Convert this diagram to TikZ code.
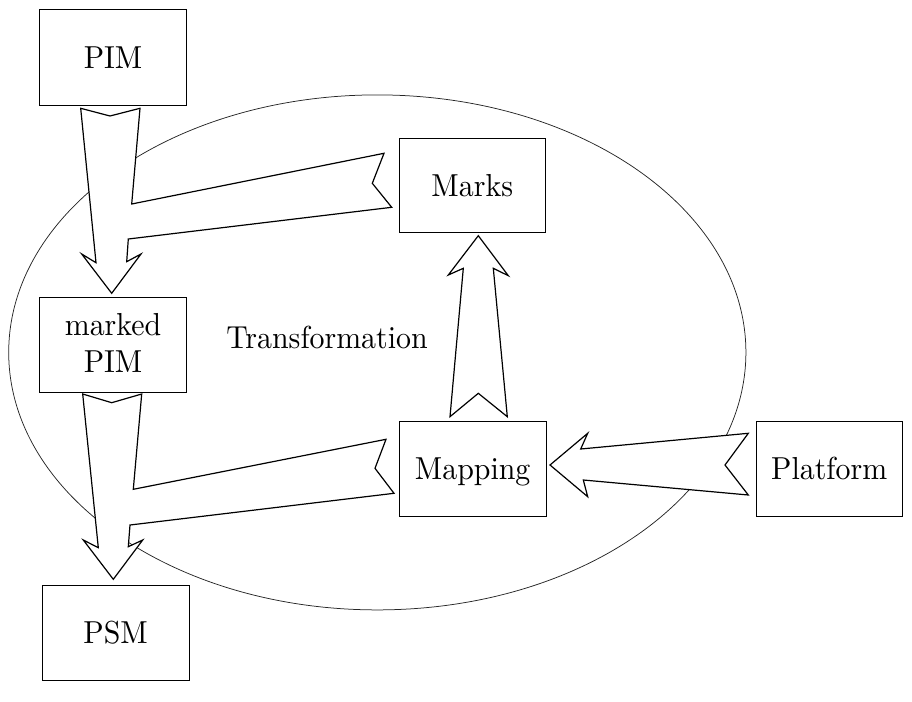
\documentclass[tikz,border=0pt]{standalone}
\usepackage{fontspec}
\newfontfamily\tenrm{lmroman10-regular}[Extension=.otf,FakeStretch=0.94]
\begin{document}
\begin{tikzpicture}[x=1pt,y=-1pt,
  lbl/.style={font=\tenrm\fontsize{31.8}{36.6}\selectfont},
  box/.style={draw=black,fill=white,line width=0.8pt,inner sep=0pt,outer sep=0pt,lbl},
  oneline/.style={text height=21.7pt,text depth=0pt},
  blockarrow/.style={draw=black,fill=white,line width=1.2pt,line join=miter},
  ring/.style={draw=black!85,line width=0.75pt}]
\useasboundingbox (0,0) rectangle (912,701);
% ellipse (transformation)
\draw[ring] (377.3,352.4) ellipse [x radius=368.6, y radius=257.5];
% block arrows
\draw[blockarrow] (80.7,108.3) -- (110,116) -- (140,108.3) -- (131.7,204) -- (384,153.3)
  -- (372.3,183.3) -- (391.7,207.3) -- (128.3,239) -- (126.7,261.7) -- (141,254)
  -- (111.7,293.3) -- (81.7,254) -- (96,262.7) -- cycle;
\draw[blockarrow] (82.7,394) -- (111.7,402.7) -- (141.7,394) -- (133.3,489.3) -- (386,439.3)
  -- (375,468.3) -- (394,493.3) -- (130,525) -- (128.3,546.7) -- (142.7,540)
  -- (113.3,579.3) -- (83.3,540) -- (98.3,547.7) -- cycle;
\draw[blockarrow] (478.3,235.7) -- (508.3,275.7) -- (493.3,268.3) -- (507.3,416.7)
  -- (478.3,393.3) -- (450,416.7) -- (463.3,268.3) -- (448.3,275) -- cycle;
\draw[blockarrow] (550,465) -- (587.7,433.3) -- (580.7,449) -- (748.3,433.3)
  -- (725,465) -- (748.3,495) -- (583.3,480) -- (587.7,496.7) -- cycle;
% boxes
\node[box,oneline,minimum width=147.2pt,minimum height=95.2pt] (pim) at (113.1,57.4) {PIM};
\node[box,minimum width=147.2pt,minimum height=95.3pt] (mpim) at (113.1,344.6) {};
\node[lbl,align=center,inner sep=0pt] (mpimtext) at (113.1,342.9) {marked\\PIM};
\node[box,oneline,minimum width=147.4pt,minimum height=95pt] (psm) at (115.6,632.5) {PSM};
\node[box,oneline,minimum width=146pt,minimum height=94.7pt] (marks) at (472.3,185.4) {Marks};
\node[box,oneline,minimum width=146.7pt,minimum height=94.5pt] (mapping) at (472.7,468.8) {Mapping};
\node[box,oneline,minimum width=146.3pt,minimum height=94.3pt] (platform) at (829.2,468.8) {Platform};
\node[lbl,anchor=base,inner sep=0pt] (trans) at (327,348) {Transformation};
\end{tikzpicture}
\end{document}
